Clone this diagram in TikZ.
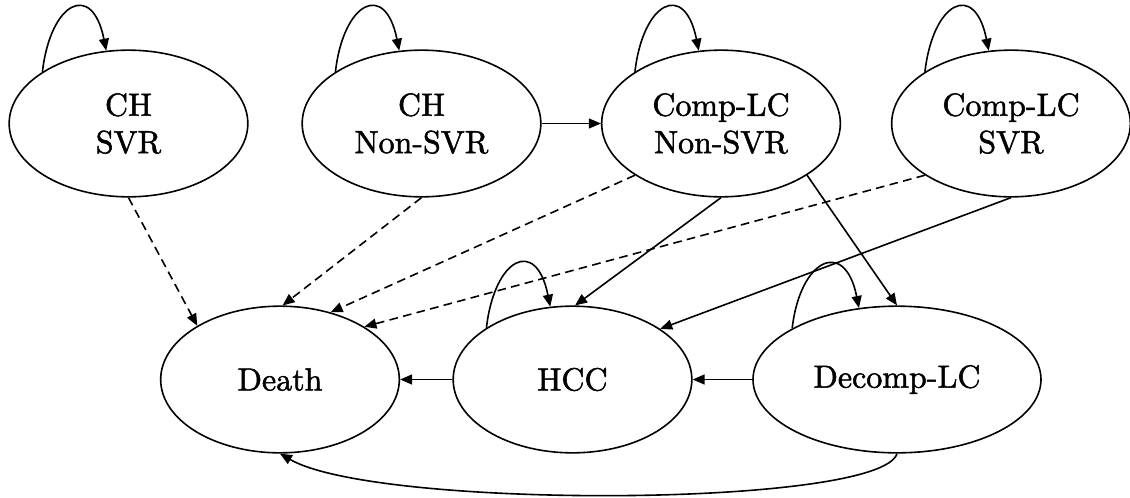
\documentclass[tikz,border=0pt]{standalone}
\usepackage{fontspec}
\usetikzlibrary{arrows.meta,shapes.geometric}

\newfontfamily\statefont{lmroman10-regular.otf}[FakeBold=1.6]
\tikzset{every picture/.style={line width=1.2pt}}
\tikzset{
  stateell/.style={draw, ellipse, minimum width=179pt, minimum height=110pt, inner sep=0pt, align=center, font=\statefont\fontsize{24}{28}\selectfont},
  trans/.style={-{Triangle[length=9pt,width=7.5pt]}},
  dead/.style={trans, dash pattern=on 6.5pt off 4pt},
}

\begin{document}
\begin{tikzpicture}[x=0.75pt,y=0.75pt,yscale=-1,xscale=1]
\useasboundingbox (0,0) rectangle (1130,497);

%Shape: Ellipse (top row)
\node[stateell] (chs) at (128.5,123.5) {CH\\SVR};
\node[stateell] (chn) at (421.5,123.5) {CH\\Non-SVR};
\node[stateell] (cln) at (721,123.5) {Comp-LC\\Non-SVR};
\node[stateell] (cls) at (1011,123.5) {Comp-LC\\SVR};
%Shape: Ellipse (bottom row)
\node[stateell] (death) at (280,379.5) {Death};
\node[stateell] (hcc) at (572.5,379.5) {HCC};
\node[stateell, minimum width=216pt] (decomp) at (897,379.5) {Decomp-LC};

%self loops
\draw[trans] (chs.149) .. controls +(8,-70) and +(-14,-70) .. (chs.107);
\draw[trans] (chn.149) .. controls +(8,-70) and +(-14,-70) .. (chn.107);
\draw[trans] (cln.149) .. controls +(8,-70) and +(-14,-70) .. (cln.107);
\draw[trans] (cls.149) .. controls +(8,-70) and +(-14,-70) .. (cls.107);
\draw[trans] (hcc.149) .. controls +(8,-70) and +(-14,-70) .. (hcc.107);
\draw[trans] (decomp.154) .. controls +(8,-70) and +(-14,-70) .. (decomp.118);

%to death (dashed)
\draw[dead] (chs.south) -- (death.147);
\draw[dead] (chn.south) -- (death.88);
\draw[dead] (cln.211) -- (death.53);
\draw[dead] (cls.211) -- (death.32);

%progression
\draw[trans, line width=0.8pt] (chn.east) -- (cln.west);
\draw[trans] (cln.south) -- (hcc.88);
\draw[trans] (cln.329) -- (decomp.north);
\draw[trans] (cls.south) -- (hcc.30);
\draw[trans] (hcc.west) -- (death.east);
\draw[trans] (decomp.west) -- (hcc.east);
\draw[trans] (decomp.south) .. controls +(-17,54) and +(97,56) .. (death.south);

\end{tikzpicture}
\end{document}
